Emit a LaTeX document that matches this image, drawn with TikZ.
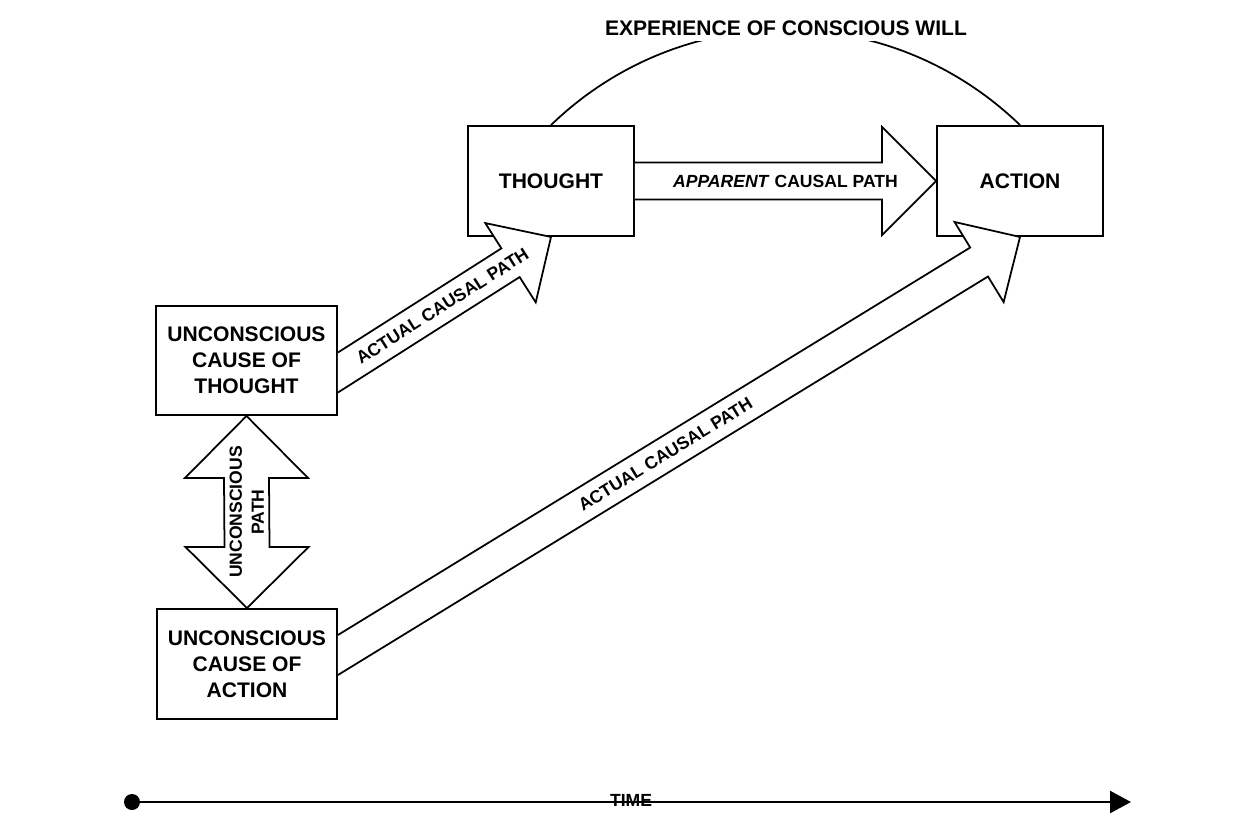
\documentclass[tikz,border=0pt]{standalone}
\usepackage{fontspec}
\setmainfont{Liberation Sans}
\usetikzlibrary{calc,arrows.meta}

\tikzset{
  box/.style={draw, line width=1.1pt, fill=white, align=center,
    font=\fontsize{12}{14.7}\selectfont\bfseries},
  fatline/.style={draw, line width=1pt, fill=white, line join=miter},
  pathlabel/.style={font=\fontsize{10}{12.5}\selectfont\bfseries, inner sep=1pt},
}

% block arrow: start, tip, shaft half width, head half width, head length, half height at start
\newcommand{\fatarrow}[6]{%
  \coordinate (hb) at ($(#2)!#5!(#1)$);
  \draw[fatline] ($(#1)+(0,-#6)$) -- ($(hb)!#3!90:(#2)$) -- ($(hb)!#4!90:(#2)$) -- (#2)
    -- ($(hb)!#4!-90:(#2)$) -- ($(hb)!#3!-90:(#2)$) -- ($(#1)+(0,#6)$);
}

\begin{document}
\begin{tikzpicture}[x=0.02cm, y=-0.02cm]
  \useasboundingbox (0,0) rectangle (1255,818);
  \fill[white] (0,0) rectangle (1255,818);

  % boxes
  \node[box, minimum width=3.32cm, minimum height=2.2cm] (thought) at (551,181) {THOUGHT};
  \node[box, minimum width=3.32cm, minimum height=2.2cm] (action) at (1020,181) {ACTION};
  \node[box, minimum width=3.62cm, minimum height=2.18cm] (uct) at (246.5,360.5) {UNCONSCIOUS\\CAUSE OF\\THOUGHT};
  \node[box, minimum width=3.6cm, minimum height=2.2cm] (uca) at (247,664) {UNCONSCIOUS\\CAUSE OF\\ACTION};

  % conscious will
  \draw[line width=1pt] (thought.north) to[bend left=44] (action.north);
  \node[fill=white, font=\fontsize{12}{14}\selectfont\bfseries] (will) at (786,28) {EXPERIENCE OF CONSCIOUS WILL};

  % causal paths
  \coordinate (ut) at ($(uct.east)+(0,12)$);
  \coordinate (ua) at ($(uca.east)+(0,-9)$);
  \fatarrow{thought.east}{action.west}{0.37cm}{1.08cm}{1.08cm}{18.5}
  \fatarrow{ut}{thought.south}{0.34cm}{0.94cm}{0.96cm}{20}
  \fatarrow{ua}{action.south}{0.34cm}{0.94cm}{0.96cm}{20}
  \path (thought.east) -- node[pathlabel] {\textit{APPARENT} CAUSAL PATH} (action.west);
  \path (ut) -- node[pathlabel, sloped, pos=.49] {ACTUAL CAUSAL PATH} (thought.south);
  \path (ua) -- node[pathlabel, sloped, pos=.48] {ACTUAL CAUSAL PATH} (action.south);

  % unconscious path
  \draw[fatline] (uct.south) -- ++(61.5,62) -- ++(-39,0) -- ($(uca.north)+(22.5,-61)$) -- ++(39,0)
    -- (uca.north) -- ++(-61.5,-61) -- ++(39,0) -- ($(uct.south)+(-22.5,62)$) -- ++(-39,0) -- cycle;
  \path (uct.south) -- node[pathlabel, rotate=90, align=center] {UNCONSCIOUS\\PATH} (uca.north);

  % time
  \node[font=\fontsize{10}{12}\selectfont\bfseries] (time) at (631,800) {TIME};
  \node[circle, fill, inner sep=0pt, minimum size=0.32cm] (t0) at (132,802) {};
  \coordinate (t1) at (1131,802);
  \draw[line width=1.4pt, -{Triangle[length=0.42cm, width=0.44cm]}] (t0.center) -- (t1);
\end{tikzpicture}
\end{document}
